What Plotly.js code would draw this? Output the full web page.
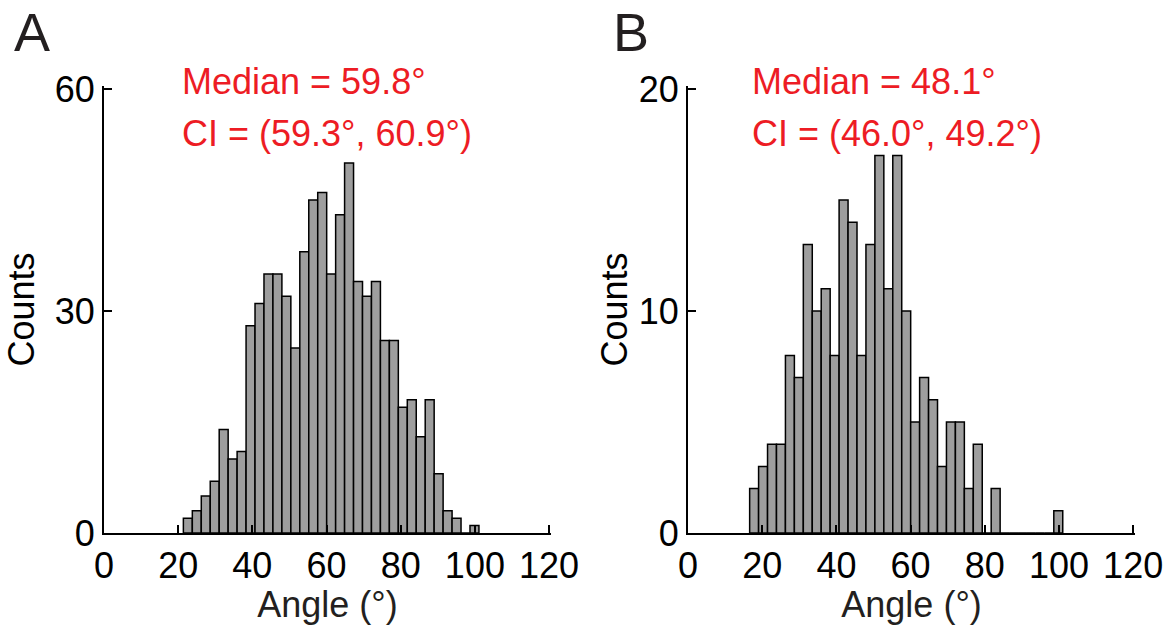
<!DOCTYPE html>
<html>
<head>
<meta charset="utf-8">
<script src="https://cdn.plot.ly/plotly-3.0.1.min.js"></script>
<style>html,body{margin:0;padding:0;background:#fff}#chart{width:1171px;height:625px}</style>
</head>
<body>
<div id="chart"></div>
<script>
// Panel A histogram (angle, degrees)
const binStartA = 21.4;
const binWidthA = 2.415;
const countsA = [2,3,5,7,14,10,11,28,31,35,35,32,25,38,45,46,35,43,50,34,32,34,26,26,17,18,13,18,8,3,2,0,1];
// Panel B histogram
const binStartB = 16.6;
const binWidthB = 2.412;
const countsB = [2,3,4,4,8,7,13,10,11,8,15,14,8,13,17,11,17,10,5,7,6,3,5,5,2,4,0,2,0,0,0,0,0,0,1];

const xTicks = [0,20,40,60,80,100,120];
const yTicksA = [0,30,60];
const yTicksB = [0,10,20];
const panelLabels = ["A","B"];
const medianText = ["Median = 59.8°","Median = 48.1°"];
const ciText = ["CI = (59.3°, 60.9°)","CI = (46.0°, 49.2°)"];
const xTitle = "Angle (°)";
const yTitle = "Counts";

function centers(start, w, n){ const c=[]; for(let i=0;i<n;i++) c.push(start + w*(i+0.5)); return c; }

const FONT = "Arial, 'Liberation Sans', Helvetica, sans-serif";
const barStyle = {color:"#9e9e9e", line:{color:"#000", width:1.5}};

const traces = [
  {type:"bar", x:centers(binStartA,binWidthA,countsA.length), y:countsA, width:binWidthA, marker:barStyle, xaxis:"x", yaxis:"y", hoverinfo:"x+y"},
  {type:"bar", x:centers(binStartB,binWidthB,countsB.length), y:countsB, width:binWidthB, marker:barStyle, xaxis:"x2", yaxis:"y2", hoverinfo:"x+y"}
];

const W=1171, H=625;
// pixel frame of the plotting area
const xPad = 0.5;                // data units past 120 so the end tick is drawn
const pxPerX = 445/120;
const L = 104, R = 1133 + xPad*pxPerX, T = 86, B = 533;
const yTopFrac = (B - T)/(B - 89);   // range multiplier so top tick lands at y=89
const px2x = p => (p - L)/(R - L);
const px2y = p => (B - p)/(B - T);

const axX = (x0, x1, anchor) => ({
  domain: [px2x(x0), px2x(x1 + xPad*pxPerX)], anchor: anchor, range:[0,120+xPad], tickvals: xTicks, ticktext: xTicks.map(String),
  showline:true, linecolor:"#000", linewidth:2, ticks:"inside", ticklen:8, tickwidth:2, tickcolor:"#000",
  showgrid:false, zeroline:false, fixedrange:true,
  tickfont:{family:FONT, size:36, color:"#000"},
  title:{text:xTitle, font:{family:FONT, size:36, color:"#231f20"}}
});
const axY = (ticks, anchor, standoff) => ({
  domain:[0, 1], anchor: anchor, range:[ticks[0], ticks[2]*yTopFrac], tickvals: ticks, ticktext: ticks.map(String),
  showline:true, linecolor:"#000", linewidth:2, ticks:"inside", ticklen:8, tickwidth:2, tickcolor:"#000",
  showgrid:false, zeroline:false, fixedrange:true, automargin:true,
  tickfont:{family:FONT, size:36, color:"#000"},
  title:{text:yTitle, standoff:standoff, font:{family:FONT, size:36, color:"#000"}}
});

const red = "#ed1c24";
const annotations = [];
const letterX = [13, 612];
const textX = [181, 751];
for (let i=0;i<2;i++){
  annotations.push({xref:"paper", yref:"paper", x:px2x(letterX[i]), y:px2y(0.5), xanchor:"left", yanchor:"top",
    text:panelLabels[i], showarrow:false, borderpad:0, font:{family:FONT, size:54, color:"#231f20"}});
  annotations.push({xref:"paper", yref:"paper", x:px2x(textX[i]), y:px2y(81), xanchor:"left", yanchor:"middle",
    text:medianText[i], showarrow:false, borderpad:0, font:{family:FONT, size:36, color:red}});
  annotations.push({xref:"paper", yref:"paper", x:px2x(textX[i]), y:px2y(133.5), xanchor:"left", yanchor:"middle",
    text:ciText[i], showarrow:false, borderpad:0, font:{family:FONT, size:36, color:red}});
}

const layout = {
  width:W, height:H, margin:{l:L, r:W-R, t:T, b:H-B, autoexpand:false}, paper_bgcolor:"#fff", plot_bgcolor:"rgba(0,0,0,0)",
  showlegend:false, bargap:0,
  xaxis: axX(104, 549, "y"),
  yaxis: axY(yTicksA, "x", 9),
  xaxis2: axX(688, 1133, "y2"),
  yaxis2: axY(yTicksB, "x2", 0),
  annotations: annotations
};

Plotly.newPlot("chart", traces, layout, {displayModeBar:false, staticPlot:true});
</script>
</body>
</html>
